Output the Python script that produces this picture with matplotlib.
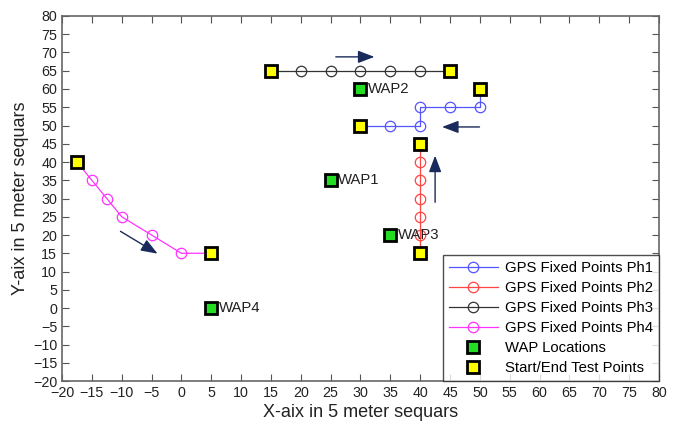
import matplotlib
matplotlib.use("Agg")
import matplotlib.pyplot as plt
import numpy as np

plt.rcParams['font.family'] = ['Liberation Sans', 'DejaVu Sans']

# Data
ph1_x = [50, 50, 45, 40, 40, 35, 30]
ph1_y = [60, 55, 55, 55, 50, 50, 50]
ph2_x = [40, 40, 40, 40, 40, 40, 40]
ph2_y = [15, 20, 25, 30, 35, 40, 45]
ph3_x = [15, 20, 25, 30, 35, 40, 45]
ph3_y = [65, 65, 65, 65, 65, 65, 65]
ph4_x = [-17.5, -15, -12.5, -10, -5, 0, 5]
ph4_y = [40, 35, 30, 25, 20, 15, 15]

wap_names = ["WAP1", "WAP2", "WAP3", "WAP4"]
wap_x = [25, 30, 35, 5]
wap_y = [35, 60, 20, 0]

se_x = [-17.5, 5, 15, 45, 50, 30, 40, 40]
se_y = [40, 15, 65, 65, 60, 50, 45, 15]

# arrows (start -> end)
arrows = [((25.4, 68.8), (32.8, 68.8)),
          ((50.4, 49.6), (43.2, 49.6)),
          ((42.5, 28.2), (42.5, 42.5)),
          ((-10.6, 21.4), (-3.6, 14.5))]

fig = plt.figure(figsize=(6.85, 4.21), dpi=100)
ax = fig.add_axes([0.0905, 0.095, 0.8715, 0.867])

series = [(ph1_x, ph1_y, '#5555ff', 'GPS Fixed Points Ph1'),
          (ph2_x, ph2_y, '#ff4444', 'GPS Fixed Points Ph2'),
          (ph3_x, ph3_y, '#333333', 'GPS Fixed Points Ph3'),
          (ph4_x, ph4_y, '#ff33ff', 'GPS Fixed Points Ph4')]
handles = []
for xs, ys, c, lab in series:
    ax.plot(xs, ys, '-', color=c, lw=0.9, zorder=2)
    ax.plot(xs[1:-1], ys[1:-1], 'o', mfc='none', mec=c, ms=7.5, mew=0.9, zorder=3)
    hp, = ax.plot([], [], '-o', color=c, mfc='none', mec=c, ms=7.5, mew=0.9, lw=0.9, label=lab)
    handles.append(hp)

hw, = ax.plot(wap_x, wap_y, 's', mfc='#22dd22', mec='black', mew=2, ms=9, ls='none',
              label='WAP Locations', zorder=4)
hs, = ax.plot(se_x, se_y, 's', mfc='#ffff00', mec='black', mew=2, ms=9, ls='none',
              label='Start/End Test Points', zorder=4)
handles += [hw, hs]

for n, x, y in zip(wap_names, wap_x, wap_y):
    ax.text(x + 1.3, y, n, fontsize=10.7, va='center', ha='left', color='#222222')

for (x0, y0), (x1, y1) in arrows:
    ax.annotate('', xy=(x1, y1), xytext=(x0, y0),
                arrowprops=dict(arrowstyle='-|>,head_length=1.0,head_width=0.38',
                                color='#1a2a5a', lw=1.0), zorder=5)

ax.set_xlim(-20, 80)
ax.set_ylim(-20, 80)
ax.set_xticks(np.arange(-20, 81, 5))
ax.set_yticks(np.arange(-20, 81, 5))
ax.tick_params(direction='in', top=True, right=True, labelsize=10.3, length=5,
               color='#555555', labelcolor='#222222')
for s in ax.spines.values():
    s.set_color('#666666')
    s.set_linewidth(1.2)

ax.set_xlabel('X-aix in 5 meter sequars', fontsize=13, color='#222222', labelpad=3)
ax.set_ylabel('Y-aix in 5 meter sequars', fontsize=13, color='#222222', labelpad=3)

leg = ax.legend(handles=handles, loc='lower right', fontsize=10.7, frameon=True,
                fancybox=False, borderaxespad=0, handlelength=3.3, handletextpad=0.5,
                labelspacing=0.4, borderpad=0.4)
leg.get_frame().set_edgecolor('#222222')
leg.get_frame().set_linewidth(1.0)

fig.savefig('out.png', dpi=100)
